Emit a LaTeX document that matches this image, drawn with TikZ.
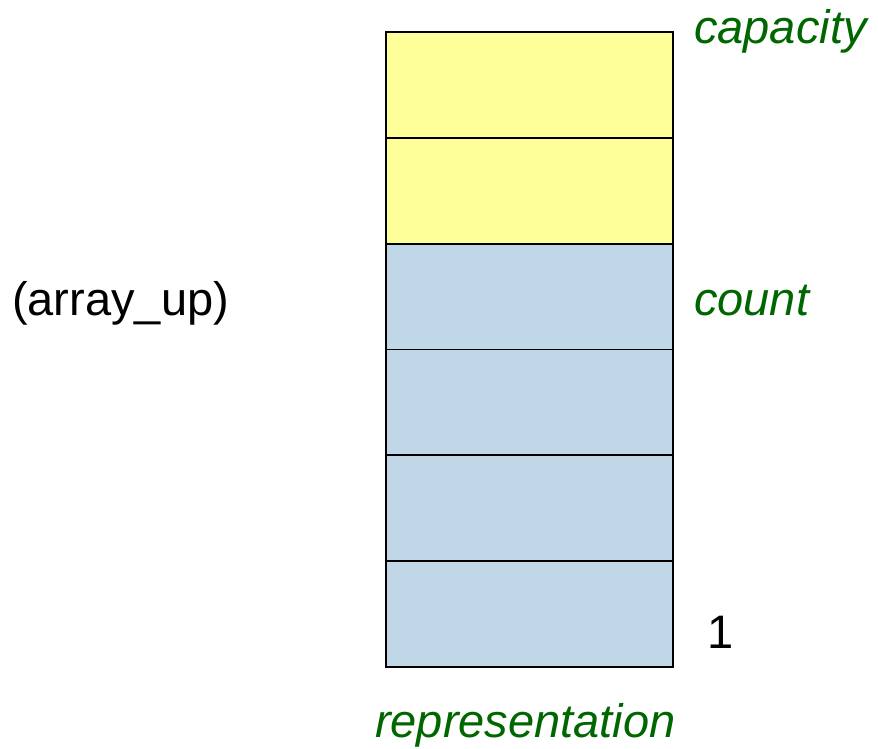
\documentclass[tikz,border=0pt]{standalone}
\usepackage{fontspec}
\setmainfont{Liberation Sans}
\definecolor{capfill}{HTML}{FFFF99}
\definecolor{usedfill}{HTML}{BFD7E6}
\definecolor{labelgreen}{HTML}{006600}
\begin{document}
\begin{tikzpicture}[x=1pt,y=-1pt,
  cell/.style={draw=black, line width=1.8pt, minimum width=287pt, minimum height=105.8pt,
               inner sep=0pt, outer sep=0pt, anchor=north west},
  free/.style={cell, fill=capfill},
  used/.style={cell, fill=usedfill},
  txt/.style={inner sep=0pt, anchor=base west, font=\fontsize{47}{56}\selectfont},
  tag/.style={txt, text=labelgreen, font=\fontsize{47}{56}\selectfont\itshape}]
  \useasboundingbox (0,0) rectangle (878,748);
  % array cells, top to bottom
  \node[free] (c6) at (386,32.0) {};
  \node[free] (c5) at (386,137.8) {};
  \node[used] (c4) at (386,243.6) {};
  \node[used] (c3) at (386,349.4) {};
  \node[used] (c2) at (386,455.2) {};
  \node[used] (c1) at (386,561.0) {};
  % labels
  \node[tag] (capacity) at (694,43) {capacity};
  \node[tag] (count) at (694,315) {count};
  \node[txt] (name) at (12,315) {(array\_up)};
  \node[txt] (one) at (707,648) {1};
  \node[tag] (rep) at (375,737) {representation};
\end{tikzpicture}
\end{document}
